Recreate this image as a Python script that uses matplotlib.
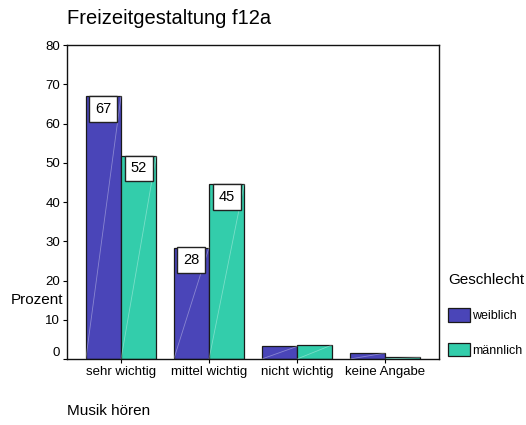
import matplotlib

matplotlib.use("Agg")
import numpy as np
from matplotlib import pyplot as plt
from matplotlib.patches import Patch

plt.rcParams["font.family"] = ["Liberation Sans", "DejaVu Sans"]

categories = ["sehr wichtig", "mittel wichtig", "nicht wichtig", "keine Angabe"]
weiblich = [67.0, 28.4, 3.2, 1.5]
maennlich = [51.8, 44.6, 3.6, 0.4]
series_names = ["weiblich", "männlich"]
colors = ["#4a45b8", "#33cdab"]
labeled = [(0, 0), (0, 1), (1, 0), (1, 1)]  # (category, series) with value boxes

fig = plt.figure(figsize=(5.26, 4.25), dpi=100)
ax = fig.add_axes([0.1274, 0.1553, 0.7072, 0.7388])

x = np.arange(len(categories))
width = 0.4
series = [weiblich, maennlich]
for i, (vals, color, name) in enumerate(zip(series, colors, series_names)):
    offs = (i - 0.5) * width
    ax.bar(x + offs, vals, width, color=color, edgecolor="#1a1a1a",
           linewidth=0.9, label=name, zorder=2)
    # faint gradient streak across each bar
    for xi, v in zip(x, vals):
        ax.plot([xi + offs - width / 2, xi + offs + width / 2], [0, v],
                color="white", alpha=0.35, lw=0.6, zorder=3)

for ci, si in labeled:
    v = series[si][ci]
    ax.annotate(f"{v:.0f}", xy=(x[ci] + (si - 0.5) * width, v),
                xytext=(0, -9.2), textcoords="offset points",
                ha="center", va="center", fontsize=10.5, zorder=4,
                bbox=dict(boxstyle="square,pad=0.4", fc="white",
                          ec="#222222", lw=1.0))

ax.set_xlim(-0.614, 3.614)
ax.set_ylim(0, 80)
ax.set_yticks(np.arange(0, 81, 10))
ax.set_xticks(x)
ax.set_xticklabels(categories, fontsize=9.5)
ax.tick_params(axis="y", labelsize=9.5, length=3, width=0.8, pad=2)
ax.tick_params(axis="x", length=3, width=0.8, pad=2)
# lift the zero label off the baseline, as in the original
zero_lbl = ax.get_yticklabels()[0]
zero_lbl.set_va("bottom")
for sp in ax.spines.values():
    sp.set_linewidth(1.0)
    sp.set_color("#111111")

fig.text(0.1274, 0.957, "Freizeitgestaltung f12a", fontsize=14.5,
         ha="left", va="center")
fig.text(0.12, 0.294, "Prozent", fontsize=11, ha="right", va="center")
fig.text(0.1274, 0.033, "Musik hören", fontsize=11, ha="left", va="center")

handles = [Patch(facecolor=c, edgecolor="#1a1a1a", linewidth=0.9) for c in colors]
leg = fig.legend(handles, series_names, loc="upper left",
                 bbox_to_anchor=(0.833, 0.38), frameon=False,
                 title="Geschlecht", title_fontsize=11, fontsize=9,
                 handlelength=1.75, handleheight=1.3, labelspacing=1.65,
                 handletextpad=0.15, borderpad=0.3)
leg._legend_box.align = "left"

fig.savefig("out.png", dpi=100)
